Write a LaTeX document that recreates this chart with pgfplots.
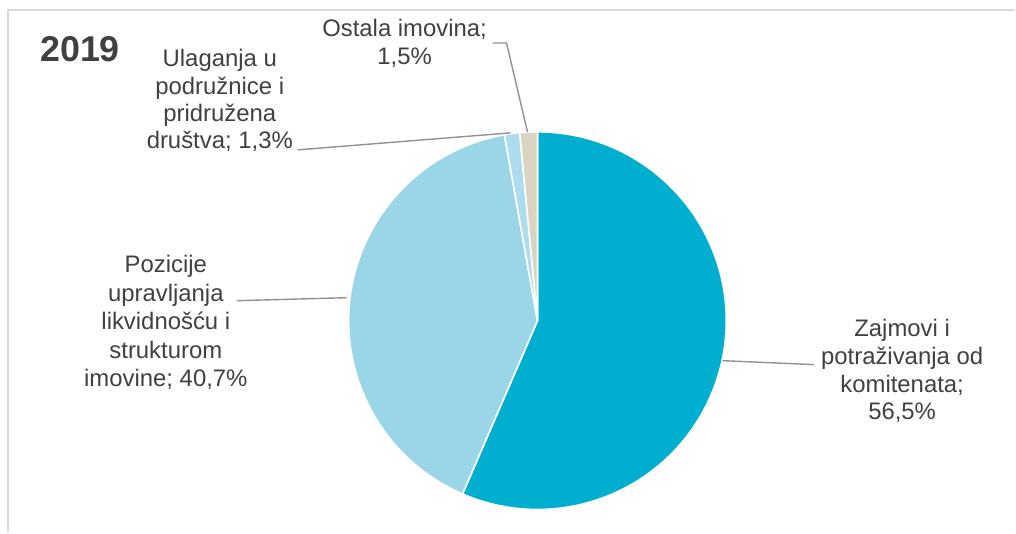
\documentclass[border=0pt]{standalone}
\usepackage{pgfplots}
\usepackage{pgfplotstable}
\pgfplotsset{compat=1.18}
\usepackage{fontspec}
\setmainfont{Liberation Sans}

\definecolor{zaj}{RGB}{0,174,207}
\definecolor{poz}{RGB}{154,213,232}
\definecolor{ula}{RGB}{172,220,237}
\definecolor{ost}{RGB}{217,213,193}
\definecolor{txt}{RGB}{64,64,64}
\definecolor{lead}{RGB}{145,145,145}
\definecolor{frame}{RGB}{217,217,217}

% shares in percent, clockwise from the top
\pgfplotstableread{
share
56.5
40.7
1.3
1.5
}\pietable

\newcommand\lbl[3]{\node[anchor=base,inner sep=0pt,text=txt,font=\fontsize{24}{28}\selectfont] at (axis cs:#1,#2) {#3};}

\begin{document}
\begin{tikzpicture}
\pgfplotstablegetelem{0}{share}\of\pietable \let\sA\pgfplotsretval
\pgfplotstablegetelem{1}{share}\of\pietable \let\sB\pgfplotsretval
\pgfplotstablegetelem{2}{share}\of\pietable \let\sC\pgfplotsretval
\pgfplotstablegetelem{3}{share}\of\pietable \let\sD\pgfplotsretval
\pgfmathsetmacro\aA{90-3.6*\sA}
\pgfmathsetmacro\aB{\aA-3.6*\sB}
\pgfmathsetmacro\aC{\aB-3.6*\sC}
\pgfmathsetmacro\aD{\aC-3.6*\sD}
\begin{axis}[
    width=1016bp, height=533bp, scale only axis,
    xmin=0, xmax=1016, ymin=0, ymax=533,
    axis lines=none, clip=false,
]
\path (axis cs:0,0) rectangle (axis cs:1016,533);
% frame
\draw[frame, line width=2bp] (axis cs:8,0) -- (axis cs:8,523) -- (axis cs:1016,523);

% slices
\def\cx{538}\def\cy{212}\def\r{189bp}
\filldraw[fill=zaj, draw=white, line width=1.6bp] (axis cs:\cx,\cy) -- ++(90:\r) arc[start angle=90, end angle=\aA, radius=\r] -- cycle;
\filldraw[fill=poz, draw=white, line width=1.6bp] (axis cs:\cx,\cy) -- ++(\aA:\r) arc[start angle=\aA, end angle=\aB, radius=\r] -- cycle;
\filldraw[fill=ula, draw=white, line width=1.6bp] (axis cs:\cx,\cy) -- ++(\aB:\r) arc[start angle=\aB, end angle=\aC, radius=\r] -- cycle;
\filldraw[fill=ost, draw=white, line width=1.6bp] (axis cs:\cx,\cy) -- ++(\aC:\r) arc[start angle=\aC, end angle=\aD, radius=\r] -- cycle;

% leader lines
\draw[lead, line width=1.4bp] (axis cs:298,383) -- (axis cs:511,400);
\draw[lead, line width=1.4bp] (axis cs:493,490) -- (axis cs:507,490) -- (axis cs:528,401);
\draw[lead, line width=1.4bp] (axis cs:237,232) -- (axis cs:347,235);
\draw[lead, line width=1.4bp] (axis cs:723,172) -- (axis cs:815,168);

% title
\node[anchor=base west, inner sep=0pt, text=txt, font=\fontsize{36}{40}\selectfont\bfseries] at (axis cs:40,471) {2019};

% labels
\lbl{220}{466}{Ulaganja u}
\lbl{220}{438.5}{podružnice i}
\lbl{220}{411}{pridružena}
\lbl{220}{384}{društva; 1,3\%}

\lbl{405}{496}{Ostala imovina;}
\lbl{405}{468}{1,5\%}

\lbl{166}{260}{Pozicije}
\lbl{166}{231.5}{upravljanja}
\lbl{166}{203}{likvidnošću i}
\lbl{166}{174.5}{strukturom}
\lbl{166}{146}{imovine; 40,7\%}

\lbl{903}{196}{Zajmovi i}
\lbl{903}{168}{potraživanja od}
\lbl{903}{140}{komitenata;}
\lbl{903}{113}{56,5\%}
\end{axis}
\end{tikzpicture}
\end{document}
